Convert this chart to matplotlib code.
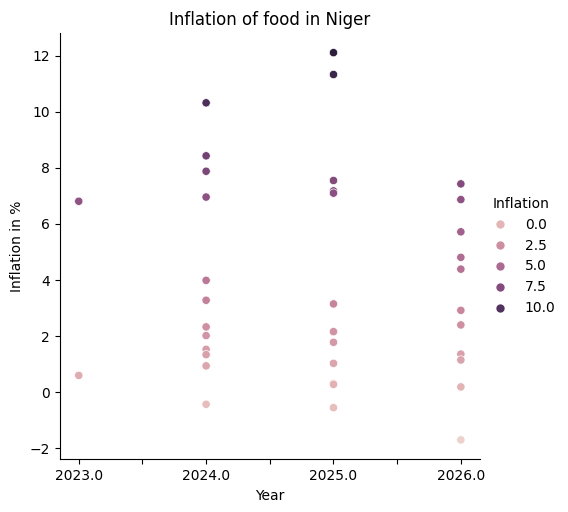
import matplotlib
matplotlib.use("Agg")
import matplotlib.pyplot as plt
import seaborn as sns
import pandas as pd

years_2023 = [6.81, 0.60]
years_2024 = [10.32, 8.43, 7.88, 6.96, 3.99, 3.28, 2.33, 2.02, 1.53, 1.34, 0.94, -0.43]
years_2025 = [12.11, 11.33, 7.55, 7.18, 7.10, 3.15, 2.16, 1.78, 1.03, 0.31, 0.28, -0.55]
years_2026 = [7.43, 6.87, 5.72, 4.81, 4.39, 2.92, 2.40, 1.36, 1.15, 0.19, -1.70]

year = ([2023.0] * len(years_2023) + [2024.0] * len(years_2024)
        + [2025.0] * len(years_2025) + [2026.0] * len(years_2026))
inflation = years_2023 + years_2024 + years_2025 + years_2026
df = pd.DataFrame({"Year": year, "Inflation": inflation})

g = sns.relplot(data=df, x="Year", y="Inflation", hue="Inflation")
g.figure.set_size_inches(5.68, 5.12)
g.figure.subplots_adjust(left=0.105, right=0.845, top=0.935, bottom=0.103)
ax = g.ax
ax.set_title("Inflation of food in Niger")
ax.set_ylabel("Inflation in %")
ticks = [2023.0, 2023.5, 2024.0, 2024.5, 2025.0, 2025.5, 2026.0]
ax.set_xticks(ticks)
ax.set_xticklabels([str(t) if t % 1 == 0 else "" for t in ticks])
g._legend.set_bbox_to_anchor((1.0, 0.5))

plt.savefig("out.png", dpi=100)
